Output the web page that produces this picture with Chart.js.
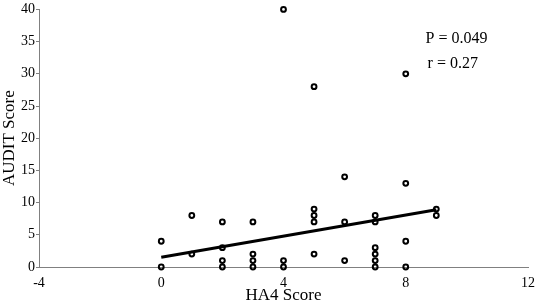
<!DOCTYPE html>
<html>
<head>
<meta charset="utf-8">
<script src="https://cdn.jsdelivr.net/npm/chart.js@4"></script>
<style>
  html, body { margin: 0; padding: 0; background: #fff; }
  #wrap { width: 536px; height: 303px; }
</style>
</head>
<body>
<div id="wrap"><canvas id="chart"></canvas></div>
<script>
// HA4 score vs AUDIT score, one entry per subject
const ha4Scores = [0, 0, 1, 1, 2, 2, 2, 2, 3, 3, 3, 3, 4, 4, 4, 5, 5, 5, 5, 5, 6, 6, 6, 7, 7, 7, 7, 7, 7, 8, 8, 8, 8, 9, 9];
const auditScores = [4, 0, 8, 2, 7, 3, 1, 0, 7, 2, 1, 0, 40, 1, 0, 28, 9, 8, 7, 2, 14, 7, 1, 8, 7, 3, 2, 1, 0, 30, 13, 4, 0, 9, 8];

// fitted line
const fitX = [0, 9];
const fitY = [1.5, 8.9];

const statLines = ['P = 0.049', 'r = 0.27'];

const serif = '"Liberation Serif", "DejaVu Serif", serif';
const axisGrey = '#808080';

const backgroundPlugin = {
    id: 'whiteBg',
    beforeDraw: (chart) => {
        const { ctx } = chart;
        ctx.save();
        ctx.fillStyle = '#fff';
        ctx.fillRect(0, 0, chart.width, chart.height);
        ctx.restore();
    }
};

// P and r values in the upper right
const statsPlugin = {
    id: 'stats',
    afterDraw: (chart) => {
        const { ctx, scales } = chart;
        ctx.save();
        ctx.font = '16px ' + serif;
        ctx.fillStyle = '#000';
        ctx.textAlign = 'left';
        ctx.textBaseline = 'middle';
        const x = scales.x.getPixelForValue(8.65);
        ctx.fillText(statLines[0], x, scales.y.getPixelForValue(35.4));
        ctx.fillText(statLines[1], x + 2, scales.y.getPixelForValue(31.5));
        ctx.restore();
    }
};

const points = ha4Scores.map((x, i) => ({ x: x, y: auditScores[i] }));
const fitLine = fitX.map((x, i) => ({ x: x, y: fitY[i] }));

new Chart(document.getElementById('chart'), {
    type: 'scatter',
    data: {
        datasets: [{
            type: 'line',
            label: 'fit',
            data: fitLine,
            borderColor: '#000',
            borderWidth: 3,
            pointRadius: 0,
            fill: false,
            clip: false
        }, {
            label: 'subjects',
            data: points,
            backgroundColor: 'rgba(0,0,0,0)',
            borderColor: '#000',
            borderWidth: 2,
            pointRadius: 2.4,
            clip: false
        }]
    },
    options: {
        responsive: true,
        maintainAspectRatio: false,
        animation: false,
        layout: { padding: { top: 7, right: 8, left: 0, bottom: 0 } },
        scales: {
            x: {
                min: -4,
                max: 12,
                afterFit: (scale) => { scale.height = 36; },
                border: { display: true, color: axisGrey, width: 1 },
                grid: { display: false },
                ticks: {
                    stepSize: 4,
                    padding: 0,
                    color: '#000',
                    font: { family: serif, size: 14 },
                    maxRotation: 0
                },
                title: {
                    display: true,
                    text: 'HA4 Score',
                    color: '#000',
                    font: { family: serif, size: 17, lineHeight: 0.92 },
                    padding: 0
                }
            },
            y: {
                min: 0,
                max: 40,
                afterFit: (scale) => { scale.width = 39; },
                border: { display: true, color: axisGrey, width: 1 },
                grid: { drawOnChartArea: false, tickLength: 3, color: axisGrey },
                ticks: {
                    stepSize: 5,
                    padding: 1,
                    color: '#000',
                    font: { family: serif, size: 14 }
                },
                title: {
                    display: true,
                    text: 'AUDIT Score',
                    color: '#000',
                    font: { family: serif, size: 17, lineHeight: 1 },
                    padding: { top: 1, bottom: 0 }
                }
            }
        },
        plugins: {
            legend: { display: false },
            tooltip: { enabled: false }
        }
    },
    plugins: [backgroundPlugin, statsPlugin]
});
</script>
</body>
</html>
